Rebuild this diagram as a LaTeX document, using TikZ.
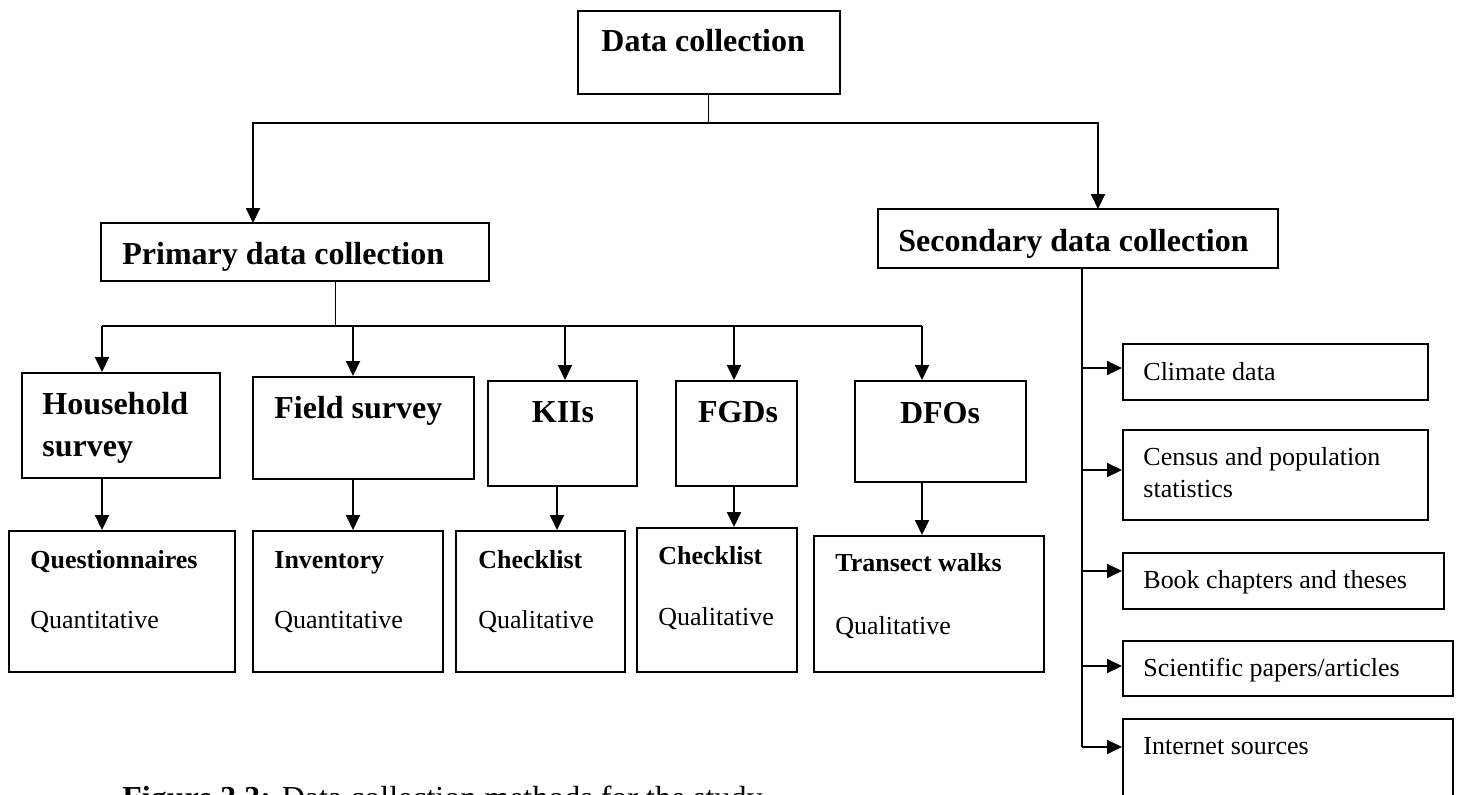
\documentclass[tikz,border=0pt]{standalone}
\usepackage{fontspec}
\setmainfont{Liberation Serif}
\usetikzlibrary{arrows.meta, fit}

\begin{document}
\begin{tikzpicture}[x=0.5pt, y=-0.5pt,
	box/.style={draw, line width=1pt, inner sep=0pt},
	bigtxt/.style={anchor=base west, inner sep=0pt, font=\fontsize{16}{19}\selectfont\bfseries},
	smalltxt/.style={anchor=base west, inner sep=0pt, font=\fontsize{13}{16}\selectfont},
	arr/.style={-{Triangle[length=7.5pt, width=7pt]}, line width=1pt},
	stem/.style={line width=0.5pt}]
			\useasboundingbox (0, 0) rectangle (1458, 794);
			
			\node[box, fit={(578, 11) (840, 94)}] (dc) {};
			\node[bigtxt] (dct) at (601, 51) {Data collection};
			
			\node[box, fit={(101, 223) (489, 281)}] (prim) {};
			\node[bigtxt] (primt) at (122, 264) {Primary data collection};
			\node[box, fit={(878, 209) (1278, 268)}] (sec) {};
			\node[bigtxt] (sect) at (898, 251) {Secondary data collection};
			
			\coordinate (top) at (708, 123);
			\draw[stem] (dc.south -| top) -- (top);
			\draw[arr] (top) -| (253, 223);
			\draw[arr] (top) -| (1098, 209);
			
			\node[box, fit={(22, 373) (220, 478)}] (hh) {};
			\node[bigtxt] (hht1) at (42, 414) {Household};
			\node[bigtxt] (hht2) at (42, 456) {survey};
			\node[box, fit={(253, 377) (474, 479)}] (fs) {};
			\node[bigtxt] (fst) at (274, 418) {Field survey};
			\node[box, fit={(488, 381) (637, 486)}] (kii) {};
			\node[bigtxt, anchor=base] (kiit) at (563, 422) {KIIs};
			\node[box, fit={(676, 381) (797, 486)}] (fgd) {};
			\node[bigtxt, anchor=base] (fgdt) at (738, 422) {FGDs};
			\node[box, fit={(855, 381) (1026, 482)}] (dfo) {};
			\node[bigtxt, anchor=base] (dfot) at (940, 423) {DFOs};
			
			\coordinate (pstem) at (335, 326);
			\draw[stem] (prim.south -| pstem) -- (pstem);
			\coordinate (b1) at (102, 326);
			\coordinate (b2) at (353, 326);
			\coordinate (b3) at (565, 326);
			\coordinate (b4) at (734, 326);
			\coordinate (b5) at (922, 326);
			\draw[line width=1pt] (b1) -- (b5);
			\foreach \b/\n in {b1/hh, b2/fs, b3/kii, b4/fgd, b5/dfo}
				\draw[arr] (\b) -- (\b |- \n.north);
			
			\node[box, fit={(9, 531) (235, 672)}] (qn) {};
			\node[smalltxt, font=\fontsize{13}{16}\selectfont\bfseries] (qnt) at (30, 568) {Questionnaires};
			\node[smalltxt] (qnk) at (30, 628) {Quantitative};
			\node[box, fit={(253, 531) (443, 672)}] (inv) {};
			\node[smalltxt, font=\fontsize{13}{16}\selectfont\bfseries] (invt) at (274, 568) {Inventory};
			\node[smalltxt] (invk) at (274, 628) {Quantitative};
			\node[box, fit={(456, 531) (625, 672)}] (ckk) {};
			\node[smalltxt, font=\fontsize{13}{16}\selectfont\bfseries] (ckkt) at (478, 568) {Checklist};
			\node[smalltxt] (ckkk) at (478, 628) {Qualitative};
			\node[box, fit={(637, 528) (797, 672)}] (ckf) {};
			\node[smalltxt, font=\fontsize{13}{16}\selectfont\bfseries] (ckft) at (658, 564) {Checklist};
			\node[smalltxt] (ckfk) at (658, 625) {Qualitative};
			\node[box, fit={(814, 536) (1044, 672)}] (tw) {};
			\node[smalltxt, font=\fontsize{13}{16}\selectfont\bfseries] (twt) at (835, 571) {Transect walks};
			\node[smalltxt] (twk) at (835, 634) {Qualitative};
			
			\foreach \x/\a/\b in {102/hh/qn, 353/fs/inv, 557/kii/ckk, 734/fgd/ckf, 922/dfo/tw}
				\draw[arr] (\a.south -| \x, 0) -- (\b.north -| \x, 0);
			
			\node[box, fit={(1123, 344) (1428, 400)}] (cl) {};
			\node[smalltxt] (clt) at (1143, 380) {Climate data};
			\node[box, fit={(1123, 430) (1428, 520)}] (cen) {};
			\node[smalltxt] (cent1) at (1143, 465) {Census and population};
			\node[smalltxt] (cent2) at (1143, 497) {statistics};
			\node[box, fit={(1123, 553) (1444, 609)}] (bk) {};
			\node[smalltxt] (bkt) at (1143, 588) {Book chapters and theses};
			\node[box, fit={(1123, 641) (1453, 696)}] (sci) {};
			\node[smalltxt] (scit) at (1143, 676) {Scientific papers/articles};
			\node[box, fit={(1123, 719) (1453, 810)}] (inet) {};
			\node[smalltxt] (inett) at (1143, 754) {Internet sources};
			
			\coordinate (send) at (1082, 747);
			\draw[line width=1pt] (sec.south -| send) -- (send);
			\foreach \n/\y in {cl/368, cen/470, bk/571, sci/666, inet/747}
				\draw[arr] (1082, \y) -- (\n.west |- 0, \y);
			
			\node[bigtxt, font=\fontsize{16}{19}\selectfont] (cap) at (122, 808) {\textbf{Figure 3.3:} Data collection methods for the study};
		\end{tikzpicture}
\end{document}
